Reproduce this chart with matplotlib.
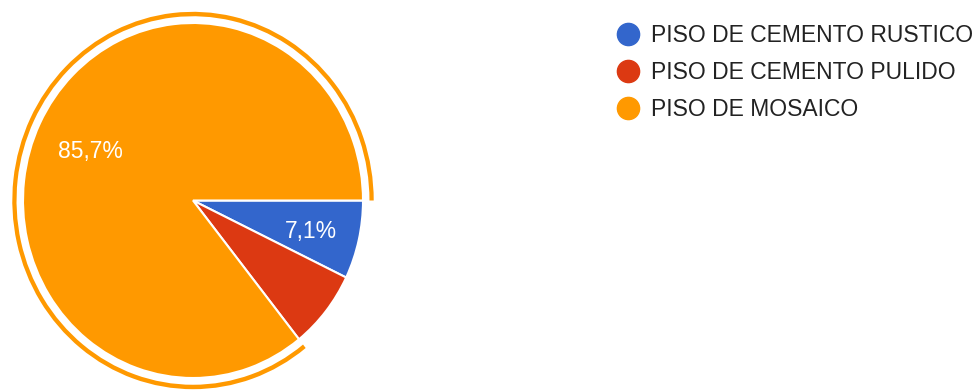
import numpy as np
import matplotlib
matplotlib.use('Agg')
import matplotlib.pyplot as plt
from matplotlib.patches import Wedge
from matplotlib.lines import Line2D

# Tipo de piso de la vivienda
categorias = ['PISO DE CEMENTO RUSTICO', 'PISO DE CEMENTO PULIDO', 'PISO DE MOSAICO']
respuestas = [1, 1, 12]
colores = ['#3366CC', '#DC3912', '#FF9900']
etiquetas = ['7,1%', '', '85,7%']

plt.rcParams['font.family'] = ['Liberation Sans', 'DejaVu Sans']

W, H = 977, 391
fig = plt.figure(figsize=(W / 100, H / 100), dpi=100)

# pie axes in pixel terms: center (193, 200.5), radius 170 px wide, 177.5 px tall
cx, cy, rx, ry = 193, 200.5, 170, 177.5
lim = 1.1
ax = fig.add_axes([(cx - lim * rx) / W, (H - cy - lim * ry) / H,
                   2 * lim * rx / W, 2 * lim * ry / H])

wedges, _ = ax.pie(respuestas, colors=colores, startangle=0, counterclock=False,
                   radius=1.0, wedgeprops=dict(edgecolor='white', linewidth=1.5))

ax.set_aspect('auto')
ax.set_xlim(-lim, lim)
ax.set_ylim(-lim, lim)
ax.axis('off')

# percentage labels inside the slices
for w, txt, d in zip(wedges, etiquetas, [0.71, 0.71, 0.67]):
    if not txt:
        continue
    ang = np.deg2rad((w.theta1 + w.theta2) / 2)
    ax.text(d * np.cos(ang), d * np.sin(ang), txt, color='white',
            fontsize=16.5, ha='center', va='center_baseline')

# highlight ring around the selected slice
sel = wedges[2]
ax.add_patch(Wedge((0, 0), 1.063, sel.theta1, sel.theta2, width=0.025,
                   facecolor=colores[2], edgecolor='none'))

handles = [Line2D([], [], linestyle='none', marker='o', markersize=16,
                  markerfacecolor=c, markeredgecolor=c) for c in colores]
fig.legend(handles, categorias, loc='upper left', bbox_to_anchor=(605.5 / W, 1 - 12.5 / H),
           frameon=False, fontsize=16.5, labelcolor='#222222',
           handlelength=1.0, handletextpad=0.5, labelspacing=0.62, borderpad=0)

fig.savefig('out.png', dpi=100)
